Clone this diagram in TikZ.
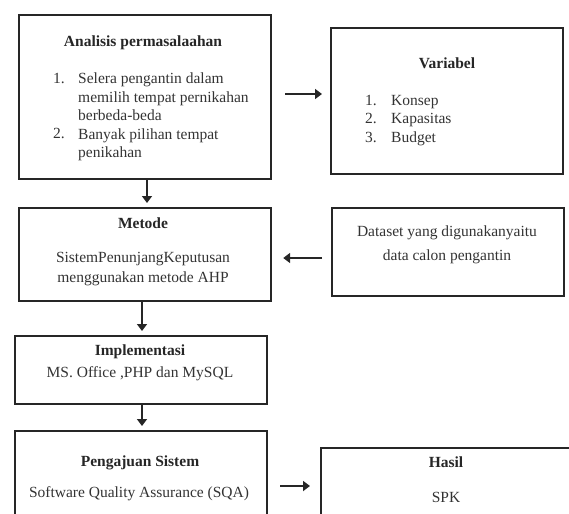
\documentclass[tikz,border=0pt]{standalone}
\usepackage{fontspec}
\setmainfont{Liberation Serif}
\usetikzlibrary{arrows.meta}
\begin{document}
\begin{tikzpicture}[x=1pt,y=-1pt,
  box/.style={draw=black!85,line width=2.2pt,anchor=north west,inner sep=0pt},
  txt/.style={inner sep=0pt,font=\fontsize{15.5}{18.5}\selectfont,text=black!80},
  ttl/.style={inner sep=0pt,font=\fontsize{15.5}{18}\selectfont\bfseries,text=black!85},
  arr/.style={draw=black!85,line width=2.2pt,-{Triangle[length=7pt,width=10pt]}}]
\useasboundingbox (0,0) rectangle (569,513);
\clip (0,0) rectangle (569,513);
% boxes
\node[box,minimum width=252pt,minimum height=164pt] (ana) at (18,14) {};
\node[box,minimum width=232pt,minimum height=146pt] (var) at (330,27) {};
\node[box,minimum width=252pt,minimum height=93pt] (met) at (18,207) {};
\node[box,minimum width=232pt,minimum height=88pt] (dat) at (331,207) {};
\node[box,minimum width=252pt,minimum height=68pt] (imp) at (14,335) {};
\node[box,minimum width=252pt,minimum height=110pt] (pen) at (14,430) {};
\node[box,minimum width=260pt,minimum height=93pt] (has) at (320,447) {};
% texts
\node[ttl] (t1) at (143,43) {Analisis permasalaahan};
\node[txt,anchor=north west,align=left] (n1) at (53,73) {1.\\\strut\\\strut\\2.};
\node[txt,anchor=north west,align=left] (b1) at (78,73) {Selera pengantin dalam\\memilih tempat pernikahan\\berbeda-beda\\Banyak pilihan tempat\\penikahan};
\node[ttl] (t2) at (447,63) {Variabel};
\node[txt,anchor=north west,align=left] (n2) at (365,95) {1.\\2.\\3.};
\node[txt,anchor=north west,align=left] (b2) at (391,95) {Konsep\\Kapasitas\\Budget};
\node[ttl] (t3) at (143,223) {Metode};
\node[txt,align=center,font=\fontsize{15.5}{20}\selectfont] (b3) at (143,269) {SistemPenunjangKeputusan\\menggunakan metode AHP};
\node[txt,align=center,font=\fontsize{15.5}{23.5}\selectfont] (b4) at (447,245) {Dataset yang digunakanyaitu\\data calon pengantin};
\node[ttl] (t5) at (140,352) {Implementasi};
\node[txt] (b5) at (140,374) {MS. Office ,PHP dan MySQL};
\node[ttl] (t6) at (140,463) {Pengajuan Sistem};
\node[txt] (b6) at (139,494) {Software Quality Assurance (SQA)};
\node[ttl] (t7) at (446,462) {Hasil};
\node[txt] (b7) at (446,497) {SPK};
% connectors
\coordinate (x147) at (147,0);
\coordinate (x142) at (142,0);
\coordinate (y94) at (0,94);
\coordinate (y258) at (0,258);
\coordinate (y486) at (0,486);
\draw[arr,shorten >=4pt] (ana.south -| x147) -- (met.north -| x147);
\draw[arr,shorten <=13pt,shorten >=8pt] (ana.east |- y94) -- (var.west |- y94);
\draw[arr,shorten <=9pt,shorten >=11pt] (dat.west |- y258) -- (met.east |- y258);
\draw[arr,shorten >=4pt] (met.south -| x142) -- (imp.north -| x142);
\draw[arr,shorten >=4pt] (imp.south -| x142) -- (pen.north -| x142);
\draw[arr,shorten <=12pt,shorten >=10pt] (pen.east |- y486) -- (has.west |- y486);
\end{tikzpicture}
\end{document}
